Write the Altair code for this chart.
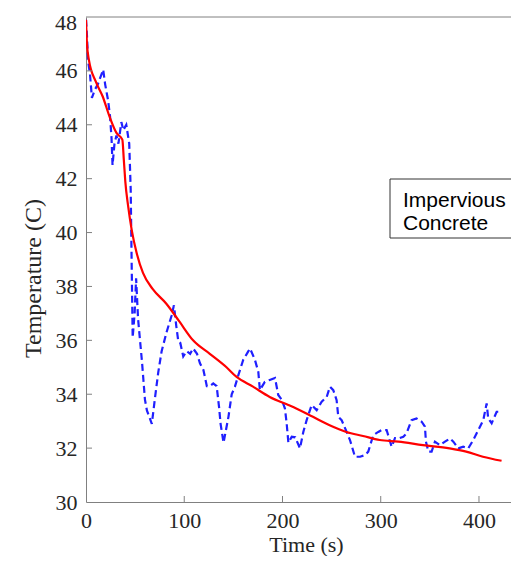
import altair as alt
import pandas as pd

# Model (solid red) curve: time (s), temperature (C)
model_t = [0, 1, 3, 10, 17, 24, 31, 37, 38.5, 40, 43, 46.5, 51.5, 58, 68, 82, 95,
           109, 126, 143, 153, 170, 187, 206, 214, 231, 248, 265, 282, 299, 318,
           343, 370, 387, 404, 423]
model_T = [47.9, 47.0, 46.4, 45.6, 45.05, 44.3, 43.7, 43.45, 42.7, 41.9, 40.95, 40.1,
           39.25, 38.5, 37.9, 37.35, 36.7, 36.0, 35.5, 35.0, 34.65, 34.28, 33.9,
           33.6, 33.47, 33.16, 32.85, 32.6, 32.45, 32.3, 32.24, 32.11, 31.99, 31.87,
           31.68, 31.53]

# Measured (dashed blue) series
meas_t = [0, 1, 2, 4, 6, 9, 12, 15, 17.5, 19.5, 22.5, 24.5, 26, 27, 29, 31, 33, 36,
          38, 41, 44, 45.5, 46.5, 47.5, 49.5, 51, 53, 55, 57, 58.5, 60, 62, 64, 67,
          70, 73.5, 77, 82, 87, 89.5, 92, 94, 96, 99, 102.5, 106, 109, 113, 116,
          119.5, 123, 126, 129.5, 133, 135.5, 137, 140, 145, 148.3, 151.6, 155, 160,
          165, 167, 172, 175.4, 177, 182, 187, 192.4, 195.7, 199.2, 202.5, 204.3,
          206, 209.4, 213, 217.8, 221.2, 224.6, 229.7, 234.8, 239.9, 245, 248.3,
          251.7, 255.1, 256.8, 260.2, 265.3, 268.7, 273.8, 278.9, 284, 287.3, 292.4,
          297.5, 300.9, 306, 311.1, 314.5, 318, 323, 326.3, 331.4, 336.5, 341.7,
          345, 346, 348.5, 351.8, 355.2, 360.3, 365.4, 370.5, 373.9, 379, 384,
          389.1, 394.2, 399.3, 404.4, 407.8, 409.4, 412.9, 418, 420.4]
meas_T = [47.9, 47.3, 46.4, 45.9, 45.0, 45.3, 45.5, 45.8, 46.05, 45.5, 44.9, 44.3,
          43.5, 42.5, 43.3, 43.6, 43.3, 44.1, 43.8, 44.0, 43.3, 41.6, 38.8, 36.1,
          37.0, 38.3, 36.8, 36.0, 35.2, 34.5, 33.8, 33.4, 33.2, 32.9, 33.8, 34.8,
          35.6, 36.3, 36.9, 37.3, 36.5, 35.95, 35.9, 35.4, 35.6, 35.5, 35.7, 35.5,
          35.15, 34.9, 34.3, 34.3, 34.4, 34.3, 33.5, 32.9, 32.2, 33.16, 34.0, 34.28,
          34.7, 35.27, 35.58, 35.7, 35.27, 34.83, 34.15, 34.46, 34.53, 34.6, 33.97,
          33.8, 33.47, 32.9, 32.2, 32.42, 32.4, 31.99, 32.6, 33.04, 33.6, 33.41,
          33.72, 33.9, 34.28, 34.15, 33.78, 33.16, 33.04, 32.6, 32.3, 31.68, 31.68,
          31.74, 31.87, 32.48, 32.6, 32.67, 32.67, 32.05, 32.37, 32.36, 32.42, 32.55,
          33.04, 33.1, 32.98, 32.8, 32.24, 31.87, 31.87, 32.24, 32.11, 32.24, 32.36,
          32.24, 31.99, 32.05, 31.99, 32.3, 32.67, 33.04, 33.66, 33.1, 32.92, 33.35,
          33.35]

x_ticks = [0, 100, 200, 300, 400]
y_ticks = [30, 32, 34, 36, 38, 40, 42, 44, 46, 48]
legend_lines = ["Impervious", "Concrete"]

W, H = 425, 485
X_DOMAIN = [0, 432.6]
Y_DOMAIN = [30, 48]
AXIS_GRAY = "#808080"
TXT = "#262626"

model_df = pd.DataFrame({"t": model_t, "T": model_T})
meas_df = pd.DataFrame({"t": meas_t, "T": meas_T})

x_scale = alt.Scale(domain=X_DOMAIN, nice=False, zero=False)
y_scale = alt.Scale(domain=Y_DOMAIN, nice=False, zero=False)

x_axis = alt.Axis(
    values=x_ticks, title="Time (s)", labelPadding=8,
    titleFontSize=22, titleBaseline="alphabetic", titleX=220, titleY=49)
y_axis = alt.Axis(
    values=y_ticks[:-1], title="Temperature (C)", labelPadding=9,
    titleFontSize=24, titleBaseline="middle", titleAngle=270,
    titleX=-53, titleY=261)

meas = alt.Chart(meas_df).mark_line(
    color="#1f1fff", strokeWidth=2.2, strokeDash=[7, 4], clip=True
).encode(x=alt.X("t:Q", scale=x_scale, axis=x_axis),
         y=alt.Y("T:Q", scale=y_scale, axis=y_axis), order="t:Q")

model = alt.Chart(model_df).mark_line(
    color="#ff0000", strokeWidth=2.2, interpolate="monotone", clip=True
).encode(x=alt.X("t:Q", scale=x_scale, axis=x_axis),
         y=alt.Y("T:Q", scale=y_scale, axis=y_axis), order="t:Q")

xt_df = pd.DataFrame({"t": x_ticks[1:]})
yt_df = pd.DataFrame({"T": y_ticks[1:-1]})
x_tick_marks = alt.Chart(xt_df).mark_rule(color=AXIS_GRAY, strokeWidth=1).encode(
    x=alt.X("t:Q", scale=x_scale, axis=x_axis), y=alt.value(H), y2=alt.value(H - 6))
y_tick_marks = alt.Chart(yt_df).mark_rule(color=AXIS_GRAY, strokeWidth=1).encode(
    y=alt.Y("T:Q", scale=y_scale, axis=y_axis), x=alt.value(0), x2=alt.value(6))

# top tick label drawn as text so that it stays inside the drawing
top_lab_df = pd.DataFrame({"T": [y_ticks[-1]], "lab": [str(y_ticks[-1])]})
top_label = alt.Chart(top_lab_df).mark_text(
    font="Liberation Serif", fontSize=22, color=TXT, align="right",
    baseline="top", dx=-9, dy=-4
).encode(x=alt.value(0), y=alt.Y("T:Q", scale=y_scale, axis=y_axis), text="lab:N")

one = pd.DataFrame({"a": [0]})
top_border = alt.Chart(one).mark_rule(color=AXIS_GRAY, strokeWidth=1).encode(
    x=alt.value(0), x2=alt.value(W + 10), y=alt.value(0))

legend_box = alt.Chart(one).mark_rect(
    fill="white", stroke="#333333", strokeWidth=1).encode(
    x=alt.value(304), x2=alt.value(W + 20), y=alt.value(162), y2=alt.value(221))
legend_t1 = alt.Chart(one).mark_text(
    text=legend_lines[0], font="Liberation Sans", fontSize=21, color="black",
    align="left", baseline="alphabetic").encode(x=alt.value(317), y=alt.value(190))
legend_t2 = alt.Chart(one).mark_text(
    text=legend_lines[1], font="Liberation Sans", fontSize=21, color="black",
    align="left", baseline="alphabetic").encode(x=alt.value(317), y=alt.value(213))

chart = alt.layer(
    meas, model, x_tick_marks, y_tick_marks, top_border, top_label,
    legend_box, legend_t1, legend_t2
).properties(
    width=W, height=H,
    autosize=alt.AutoSizeParams(type="none"),
    padding={"left": 78, "top": 9, "right": 0, "bottom": 54},
    background="white",
).configure_view(stroke=None).configure_axis(
    grid=False, ticks=False, domainColor=AXIS_GRAY, domainWidth=1,
    labelFont="Liberation Serif", labelFontSize=22, labelColor=TXT,
    labelFlush=False, titleFont="Liberation Serif", titleColor=TXT,
    titleFontWeight="normal",
)

chart.save("out.html", embed_options={"renderer": "svg", "actions": False})
